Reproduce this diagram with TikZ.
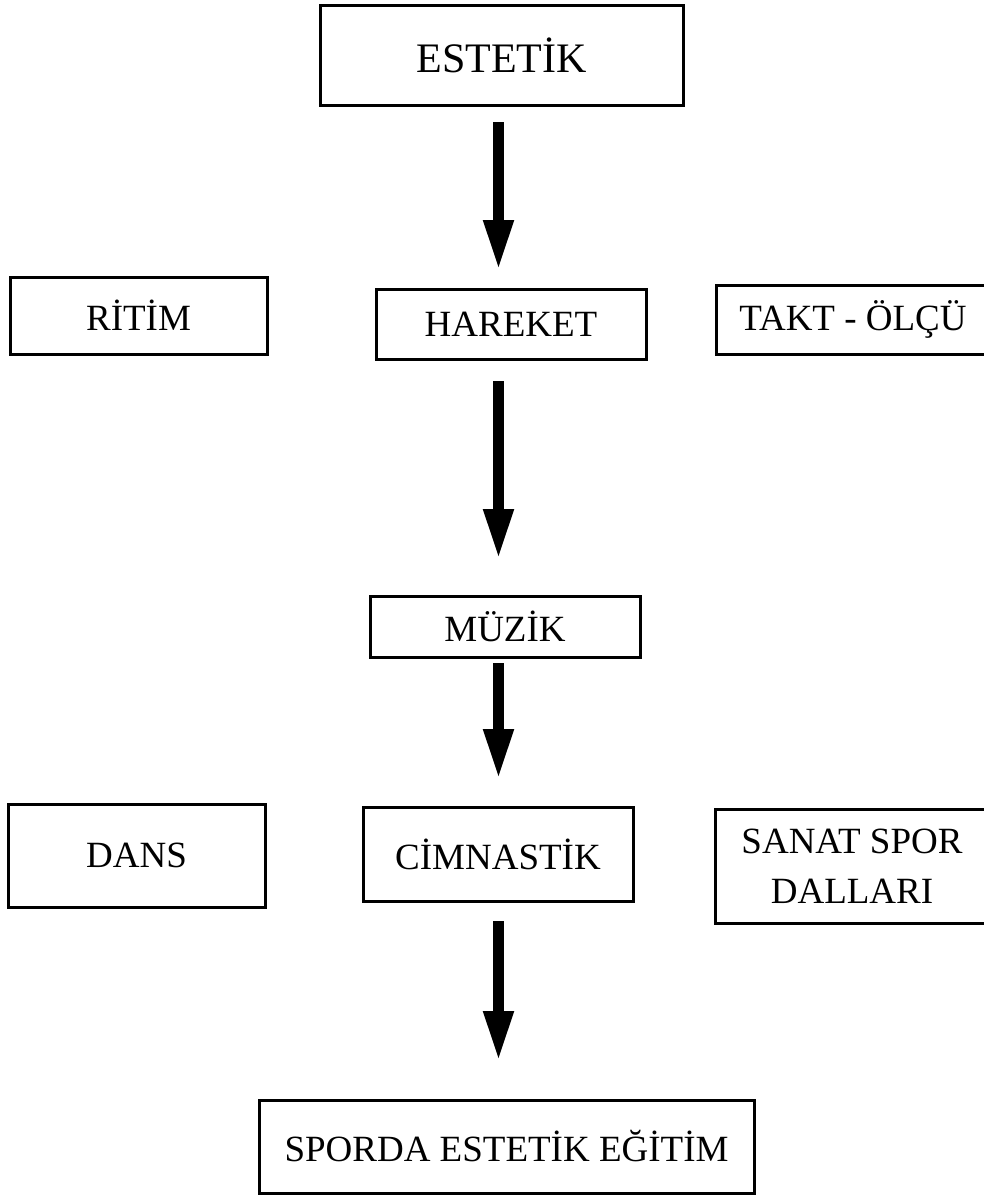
\documentclass[tikz,border=0pt]{standalone}
\usepackage{fontspec}
\setmainfont{Liberation Serif}
\usetikzlibrary{arrows.meta,positioning}
\tikzset{x=1pt,y=1pt,
	node distance=100pt,
	block/.style={
		draw,
		rectangle,
		line width=3pt,
		inner sep=0pt,
		outer sep=0pt,
		align=center,
		font=\fontsize{37}{50}\selectfont
	},
	every edge/.style={
		draw,
		->,>={Triangle[length=50pt,width=28pt]},
		line width=10.5pt
	}
}
\begin{document}
\begin{tikzpicture}
		\useasboundingbox (0,0) rectangle (984,-1195);
		\coordinate (axis) at (498.5,0);
		% main column
		\node[block, minimum width=363pt, minimum height=100pt,
			font=\fontsize{42}{50}\selectfont] (estetik) at (501.5,-55) {ESTETİK};
		\node[block, minimum width=270pt, minimum height=70pt,
			below=184pt of estetik, xshift=9.5pt] (hareket) {HAREKET};
		\node[block, minimum width=270pt, minimum height=61pt,
			below=237pt of hareket, xshift=-6pt] (muzik) {MÜZİK};
		\node[block, minimum width=270pt, minimum height=94pt,
			below=150pt of muzik, xshift=-7pt] (cimnastik) {CİMNASTİK};
		\node[block, minimum width=495pt, minimum height=93pt,
			below=199pt of cimnastik, xshift=8.5pt] (sporda) {SPORDA ESTETİK EĞİTİM};
		% side boxes
		\node[block, minimum width=257pt, minimum height=77pt,
			left=109pt of hareket, yshift=8.5pt] (ritim) {RİTİM};
		\node[block, minimum width=274pt, minimum height=69pt,
			right=70pt of hareket, yshift=4.5pt] (takt) {TAKT - ÖLÇÜ};
		\node[block, minimum width=257pt, minimum height=103pt,
			left=98pt of cimnastik, yshift=-1.5pt] (dans) {DANS};
		\node[block, minimum width=274pt, minimum height=114pt,
			right=82pt of cimnastik, yshift=-12pt] (sanat) {SANAT SPOR\\DALLARI};
		% arrows
		\draw (estetik.south -| axis) edge[shorten <=17pt, shorten >=19pt] (hareket.north -| axis)
		(hareket.south -| axis) edge[shorten <=22pt, shorten >=37pt] (muzik.north -| axis)
		(muzik.south -| axis) edge[shorten <=6pt, shorten >=28pt] (cimnastik.north -| axis)
		(cimnastik.south -| axis) edge[shorten <=20pt, shorten >=39pt] (sporda.north -| axis);
	\end{tikzpicture}
\end{document}
